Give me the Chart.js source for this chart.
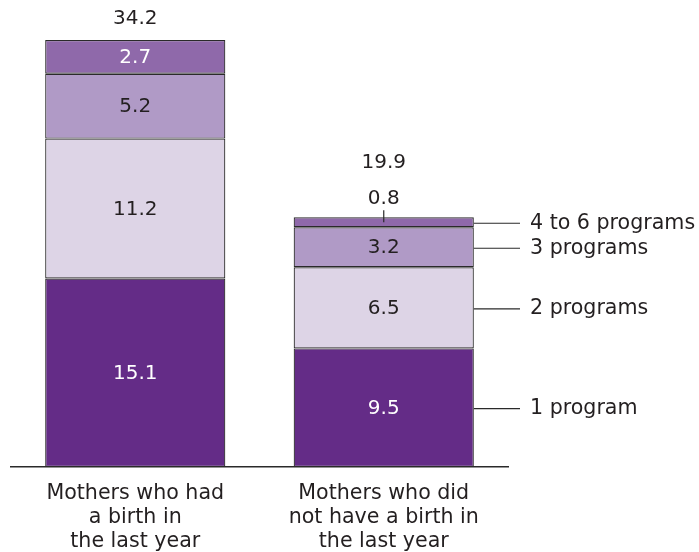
<!DOCTYPE html>
<html>
<head>
<meta charset="utf-8">
<script src="https://cdn.jsdelivr.net/npm/chart.js@4/dist/chart.umd.min.js"></script>
<style>
html,body{margin:0;padding:0;background:#fff;}
#wrap{width:699px;height:552px;}
</style>
</head>
<body>
<div id="wrap"><canvas id="c" width="699" height="552"></canvas></div>
<script>
const categories = [
  ["Mothers who had", "a birth in", "the last year"],
  ["Mothers who did", "not have a birth in", "the last year"]
];
const seriesNames = ["1 program", "2 programs", "3 programs", "4 to 6 programs"];
const onePrograms = [15.1, 9.5];
const twoPrograms = [11.2, 6.5];
const threePrograms = [5.2, 3.2];
const fourToSixPrograms = [2.7, 0.8];
const totals = [34.2, 19.9];

const colors = ["#642c87", "#ddd4e6", "#b09ac6", "#8f69aa"];
const labelColors = ["#ffffff", "#231f20", "#231f20", "#ffffff"];
const FONT = '"DejaVu Sans", sans-serif';
const TEXT = "#231f20";
const LINE = "#2a2a2a";

const overlay = {
  id: "overlay",
  afterDatasetsDraw(chart) {
    const ctx = chart.ctx;
    ctx.save();
    ctx.textBaseline = "middle";
    const n = chart.data.datasets.length;
    // segment labels
    ctx.textAlign = "center";
    ctx.font = "20px " + FONT;
    chart.data.datasets.forEach((ds, di) => {
      const meta = chart.getDatasetMeta(di);
      meta.data.forEach((bar, i) => {
        const v = ds.data[i];
        const top = Math.min(bar.y, bar.base);
        const bot = Math.max(bar.y, bar.base);
        const h = bot - top;
        if (h < 20) {
          ctx.fillStyle = TEXT;
          ctx.fillText(v.toFixed(1), bar.x, top - 18);
          ctx.strokeStyle = LINE;
          ctx.lineWidth = 1.2;
          ctx.beginPath();
          ctx.moveTo(bar.x, top - 7);
          ctx.lineTo(bar.x, top + 5);
          ctx.stroke();
        } else {
          ctx.fillStyle = labelColors[di];
          ctx.fillText(v.toFixed(1), bar.x, (top + bot) / 2 + 1);
        }
      });
    });
    // totals
    const topMeta = chart.getDatasetMeta(n - 1);
    topMeta.data.forEach((bar, i) => {
      const top = Math.min(bar.y, bar.base);
      const h = Math.abs(bar.base - bar.y);
      const off = h < 20 ? 54 : 21;
      ctx.fillStyle = TEXT;
      ctx.fillText(totals[i].toFixed(1), bar.x, top - off);
    });
    // right-side leader labels on last bar
    ctx.textAlign = "left";
    ctx.font = "20.6px " + FONT;
    chart.data.datasets.forEach((ds, di) => {
      const bar = chart.getDatasetMeta(di).data[1];
      const top = Math.min(bar.y, bar.base);
      const bot = Math.max(bar.y, bar.base);
      const cy = (top + bot) / 2 + 1;
      const right = bar.x + bar.width / 2;
      ctx.strokeStyle = LINE;
      ctx.lineWidth = 1.2;
      ctx.beginPath();
      ctx.moveTo(right, cy);
      ctx.lineTo(520, cy);
      ctx.stroke();
      ctx.fillStyle = TEXT;
      ctx.fillText(ds.label, 530, cy);
    });
    ctx.restore();
  }
};

const datasets = [onePrograms, twoPrograms, threePrograms, fourToSixPrograms].map((d, i) => ({
  label: seriesNames[i],
  data: d,
  backgroundColor: colors[i],
  borderColor: LINE,
  borderWidth: 1.2,
  borderSkipped: false,
  barPercentage: 1,
  categoryPercentage: 0.725
}));

new Chart(document.getElementById("c"), {
  type: "bar",
  data: { labels: categories, datasets },
  options: {
    responsive: false,
    animation: false,
    events: [],
    layout: { padding: { left: 11, right: 191, top: 17.5, bottom: 0 } },
    plugins: { legend: { display: false }, tooltip: { enabled: false } },
    scales: {
      x: {
        stacked: true,
        grid: { display: false },
        border: { display: true, color: LINE, width: 1.5 },
        ticks: {
          color: TEXT,
          font: { family: FONT, size: 20.6, lineHeight: 1.18 },
          padding: 6,
          maxRotation: 0,
          autoSkip: false
        },
        afterFit(scale) { scale.height = 85; }
      },
      y: {
        stacked: true,
        display: false,
        min: 0,
        max: 36
      }
    }
  },
  plugins: [overlay]
});
</script>
</body>
</html>
